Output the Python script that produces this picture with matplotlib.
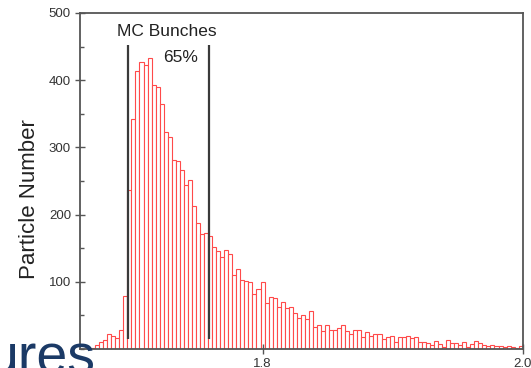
import numpy as np
import matplotlib.pyplot as plt
from matplotlib.ticker import MultipleLocator

plt.rcParams['font.family'] = ['Liberation Sans', 'DejaVu Sans']

# histogram of particle counts per bin
counts = [2, 6, 10, 14, 22, 20, 17, 28, 79, 237,
          342, 413, 427, 423, 433, 393, 390, 365, 323, 316,
          281, 280, 267, 244, 252, 213, 188, 171, 172, 168,
          152, 146, 137, 148, 141, 110, 119, 103, 101, 99,
          82, 90, 99, 68, 77, 76, 62, 70, 61, 63,
          53, 46, 50, 44, 57, 33, 35, 27, 35, 28,
          29, 32, 35, 27, 22, 28, 29, 18, 25, 20,
          23, 23, 15, 18, 20, 10, 18, 18, 20, 17,
          18, 11, 10, 9, 6, 12, 8, 3, 14, 9,
          9, 6, 11, 3, 8, 12, 9, 6, 4, 6,
          4, 5, 3, 4, 3, 2, 4]
x_first, x_last = 1.668, 2.0
edges = np.linspace(x_first, x_last, len(counts) + 1)

# bunch window markers
cut_positions = [1.6966, 1.7585]
cut_low, cut_high = 15, 452

fig = plt.figure(figsize=(5.31, 3.68), dpi=100)
ax = fig.add_axes([0.1507, 0.0516, 0.8337, 0.9131])

ax.bar(edges[:-1], counts, width=np.diff(edges), align='edge',
       facecolor='white', edgecolor='#ff4a4a', linewidth=0.8)

ax.vlines(cut_positions, cut_low, cut_high, color='#3a3a3a', linewidth=1.6)

ax.text(1.7260, 473, 'MC Bunches', ha='center', va='center', fontsize=12.5, color='#222222')
ax.text(1.7365, 434, '65%', ha='center', va='center', fontsize=12.5, color='#222222')

ax.set_xlim(1.6595, 2.0)
ax.set_ylim(0, 500)
ax.xaxis.set_major_locator(MultipleLocator(0.2))
ax.yaxis.set_minor_locator(MultipleLocator(50))
ax.set_yticks([100, 200, 300, 400, 500])
ax.xaxis.set_major_formatter(plt.FuncFormatter(lambda v, p: f'{v:.1f}'))

ax.tick_params(axis='both', which='major', direction='inout', length=7, width=1,
               color='#555555', labelsize=9.5, labelcolor='#333333', pad=3)
ax.tick_params(axis='y', which='minor', direction='in', length=3, width=1, color='#555555')
ax.tick_params(top=False, right=False)
for s in ax.spines.values():
    s.set_color('#555555')
    s.set_linewidth(1.3)

ax.set_ylabel('Particle Number', fontsize=16, color='#222222')
ax.yaxis.set_label_coords(-0.09, 0.446)

# leftover slide heading in the corner
fig.text(-0.0245, -0.015, 'ures', fontsize=40, color='#1b3a66', ha='left', va='baseline')

fig.savefig('out.png', dpi=100)
